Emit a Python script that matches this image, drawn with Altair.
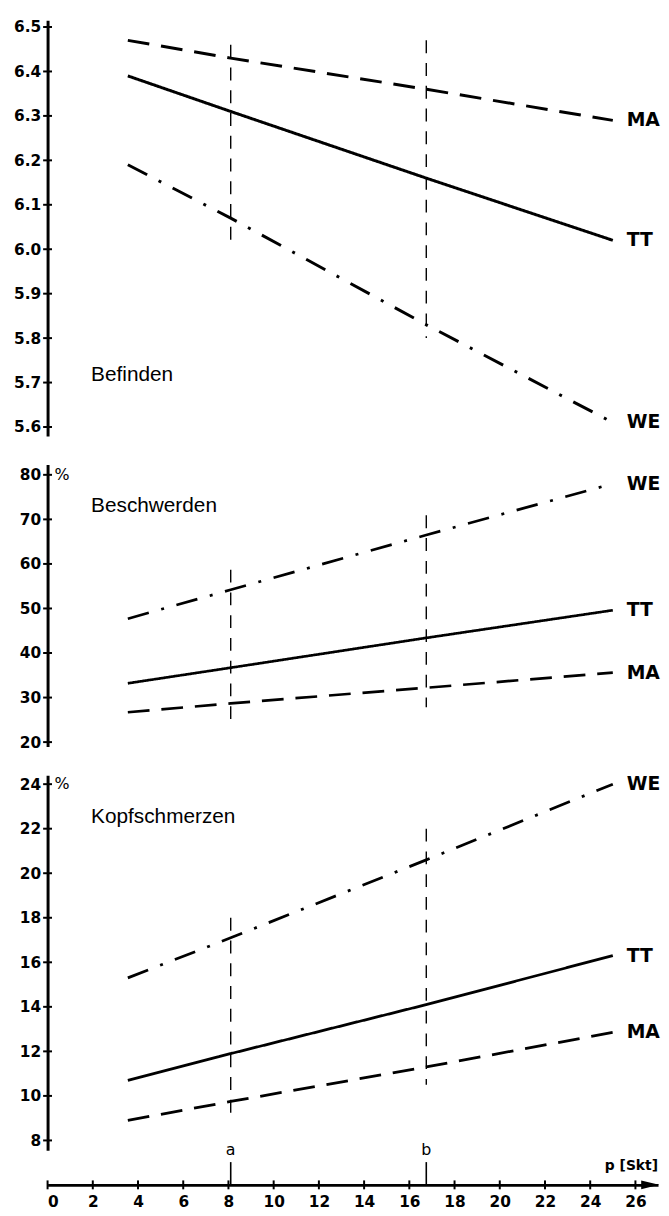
import altair as alt
import pandas as pd

# ---------------- data ----------------
series = ["MA", "TT", "WE"]
x_pts = [3.55, 8.1, 16.75, 25.0]

bef_MA = [6.47, 6.43, 6.36, 6.29]
bef_TT = [6.39, 6.31, 6.16, 6.02]
bef_WE = [6.19, 6.07, 5.83, 5.61]

bes_MA = [26.7, 28.7, 32.2, 35.6]
bes_TT = [33.2, 36.7, 43.4, 49.6]
bes_WE = [47.7, 54.2, 66.5, 78.0]

kop_MA = [8.9, 9.75, 11.3, 12.85]
kop_TT = [10.7, 11.9, 14.1, 16.3]
kop_WE = [15.3, 17.1, 20.6, 24.0]

bef_ticks = [5.6, 5.7, 5.8, 5.9, 6.0, 6.1, 6.2, 6.3, 6.4, 6.5]
bes_ticks = [20, 30, 40, 50, 60, 70, 80]
kop_ticks = [8, 10, 12, 14, 16, 18, 20, 22, 24]
x_ticks = [0, 2, 4, 6, 8, 10, 12, 14, 16, 18, 20, 22, 24, 26]

marker_names = ["a", "b"]
marker_x = [8.1, 16.75]
bef_vl_top = [6.46, 6.47]
bef_vl_bot = [6.01, 5.80]
bes_vl_top = [58.7, 70.9]
bes_vl_bot = [24.5, 27.8]
kop_vl_top = [18.0, 22.0]
kop_vl_bot = [9.1, 10.5]

# ---------------- layout constants ----------------
X_DOM = [0, 27]
W = 617
H1, H2, H3 = 420, 285, 379
XOFF = 35
DASH = {"MA": [22, 12], "TT": [1, 0], "WE": [22, 13, 3, 13]}
TICK_FONT = dict(labelFont="DejaVu Sans", labelFontSize=15.5,
                 labelFontWeight="bold", labelColor="black")


def panel(name, vals, dom, height, ticks, fmt, vtop, vbot, pct, title_y,
          lw, bottom_axis=False):
    df = pd.DataFrame([{"x": x, "v": v, "s": s}
                       for s in series for x, v in zip(x_pts, vals[s])])
    lab = pd.DataFrame({"x": [x_pts[-1]] * 3,
                        "v": [vals[s][-1] for s in series], "s": series})
    vl = pd.DataFrame({"m": marker_names, "x": marker_x, "top": vtop, "bot": vbot})
    tk = pd.DataFrame({"t": ticks})

    xs = alt.Scale(domain=X_DOM, nice=False, zero=False)
    ys = alt.Scale(domain=dom, nice=False, zero=False)
    yaxis = alt.Axis(values=ticks, title=None, grid=False, ticks=False,
                     domainWidth=3, domainColor="black", labelPadding=7,
                     format=fmt, labelOverlap=False, **TICK_FONT)
    if bottom_axis:
        xaxis = alt.Axis(values=x_ticks, title=None, grid=False, ticks=False,
                         domainWidth=3, domainColor="black",
                         labelPadding=10, offset=XOFF, format="d",
                         labelOverlap=False, **TICK_FONT)
    else:
        xaxis = None

    def X(f):
        return alt.X(f, type="quantitative", scale=xs, axis=xaxis)

    def Y(f):
        return alt.Y(f, type="quantitative", scale=ys, axis=yaxis)

    lines = alt.Chart(df).mark_line(color="black", strokeWidth=lw,
                                    strokeCap="butt").encode(
        x=X("x"), y=Y("v"),
        strokeDash=alt.StrokeDash("s:N", legend=None,
                                  scale=alt.Scale(domain=series,
                                                  range=[DASH[s] for s in series])),
    )
    labels = alt.Chart(lab).mark_text(align="left", baseline="middle", dx=14,
                                      font="DejaVu Sans", fontSize=19,
                                      fontWeight="bold", color="black").encode(
        x=X("x"), y=Y("v"), text="s:N")
    vrules = alt.Chart(vl).mark_rule(color="black", strokeWidth=1.4,
                                     strokeDash=[13, 10]).encode(
        x=X("x"), y=Y("top"), y2="bot")
    crosses = alt.Chart(tk).mark_tick(color="black", size=9, thickness=2,
                                      opacity=1).encode(
        y=Y("t"), x=alt.value(0))
    title = alt.Chart(pd.DataFrame({"t": [name]})).mark_text(
        align="left", baseline="alphabetic", font="Liberation Sans",
        fontSize=21, color="black").encode(
        x=alt.value(44), y=alt.value(title_y), text="t:N")
    layers = [lines, vrules, crosses, labels, title]
    if pct:
        pc = alt.Chart(pd.DataFrame({"v": [ticks[-1]], "t": ["%"]})).mark_text(
            align="left", baseline="middle", font="DejaVu Sans", fontSize=16,
            color="black").encode(x=alt.value(7), y=Y("v"), text="t:N")
        layers.append(pc)
    if bottom_axis:
        xt = pd.DataFrame({"t": x_ticks})
        base_y = height + XOFF
        xcross = alt.Chart(xt).mark_tick(color="black", size=9, thickness=2,
                                         opacity=1).encode(
            x=X("t"), y=alt.value(base_y))
        arrow = alt.Chart(pd.DataFrame({"k": [0]})).mark_point(
            shape="M -1 -0.5 L 1 0 L -1 0.5 Z", filled=True, size=324,
            color="black", opacity=1).encode(
            x=alt.value(W - 8), y=alt.value(base_y))
        ptxt = alt.Chart(pd.DataFrame({"t": ["p [Skt]"]})).mark_text(
            align="right", baseline="alphabetic", font="DejaVu Sans",
            fontSize=14, fontWeight="bold", color="black").encode(
            x=alt.value(W), y=alt.value(base_y - 15), text="t:N")
        mk = pd.DataFrame({"m": marker_names, "x": marker_x})
        mtxt = alt.Chart(mk).mark_text(
            align="center", baseline="alphabetic", font="DejaVu Sans",
            fontSize=16, color="black").encode(
            x=X("x"), y=alt.value(base_y - 30), text="m:N")
        mrule = alt.Chart(mk).mark_rule(color="black", strokeWidth=1.6).encode(
            x=X("x"), y=alt.value(base_y - 23), y2=alt.value(base_y))
        layers += [xcross, arrow, ptxt, mtxt, mrule]
    return alt.layer(*layers).properties(width=W, height=height)


p1 = panel("Befinden", {"MA": bef_MA, "TT": bef_TT, "WE": bef_WE},
           [5.58, 6.515], H1, bef_ticks, ".1f", bef_vl_top, bef_vl_bot,
           False, 365, 3.0)
p2 = panel("Beschwerden", {"MA": bes_MA, "TT": bes_TT, "WE": bes_WE},
           [19, 82.3], H2, bes_ticks, "d", bes_vl_top, bes_vl_bot,
           True, 48, 2.7)
p3 = panel("Kopfschmerzen", {"MA": kop_MA, "TT": kop_TT, "WE": kop_WE},
           [7.56, 24.4], H3, kop_ticks, "d", kop_vl_top, kop_vl_bot,
           True, 48, 2.8, bottom_axis=True)

chart = alt.vconcat(p1, p2, p3, spacing=29, bounds="flush").configure_view(
    stroke=None).properties(
    padding={"left": 5, "top": 5, "right": 0, "bottom": 0},
    background="white")

chart.save("out.html", embed_options={"renderer": "svg", "actions": False})
